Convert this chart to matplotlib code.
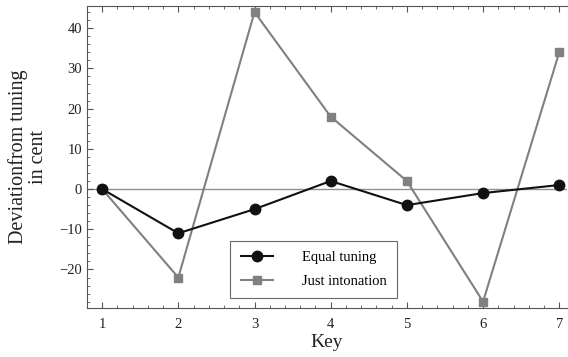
import matplotlib
matplotlib.use("Agg")
import matplotlib.pyplot as plt
from matplotlib.ticker import MultipleLocator

keys = [1, 2, 3, 4, 5, 6, 7]
equal_tuning = [0, -11, -5, 2, -4, -1, 1]
just_intonation = [0, -22, 44, 18, 2, -28, 34]

plt.rcParams['font.family'] = ['Liberation Serif', 'DejaVu Serif']

fig = plt.figure(figsize=(5.68, 3.57), dpi=100)
ax = fig.add_axes([0.153, 0.137, 0.845, 0.846])

ax.axhline(0, color='#909090', lw=1.0, zorder=1)
ax.plot(keys, just_intonation, color='#808080', lw=1.5, marker='s', ms=6,
        label='Just intonation', zorder=2)
ax.plot(keys, equal_tuning, color='#111111', lw=1.5, marker='o', ms=7.5,
        label='Equal tuning', zorder=3)

ax.set_xlim(0.8, 7.1)
ax.set_ylim(-29.6, 45.5)
ax.xaxis.set_major_locator(MultipleLocator(1))
ax.xaxis.set_minor_locator(MultipleLocator(0.2))
ax.yaxis.set_minor_locator(MultipleLocator(2))
ax.set_yticks([-20, -10, 0, 10, 20, 30, 40])

ax.spines['right'].set_visible(False)
for s in ['left', 'bottom', 'top']:
    ax.spines[s].set_color('#555555')
    ax.spines[s].set_linewidth(0.8)

ax.tick_params(which='both', direction='in', top=True, right=False, colors='#555555',
               labelcolor='#222222', labelsize=10.5)
ax.tick_params(which='major', length=4)
ax.tick_params(which='minor', length=2)
ax.tick_params(axis='x', labeltop=False, pad=7)

ax.set_xlabel('Key', fontsize=14, color='#222222', labelpad=2)
ax.set_ylabel('Deviationfrom tuning\nin cent', fontsize=14.5, color='#222222',
              linespacing=1.05, labelpad=8)

handles, labels = ax.get_legend_handles_labels()
leg = ax.legend(handles[::-1], labels[::-1], loc='lower left',
                bbox_to_anchor=(0.29, 0.018), fontsize=10.5, frameon=True,
                fancybox=False, edgecolor='#444444', handlelength=2.2,
                handletextpad=2.0, borderpad=0.7, borderaxespad=0.3,
                labelspacing=0.75)
leg.get_frame().set_linewidth(0.8)

fig.savefig('out.png', dpi=100)
